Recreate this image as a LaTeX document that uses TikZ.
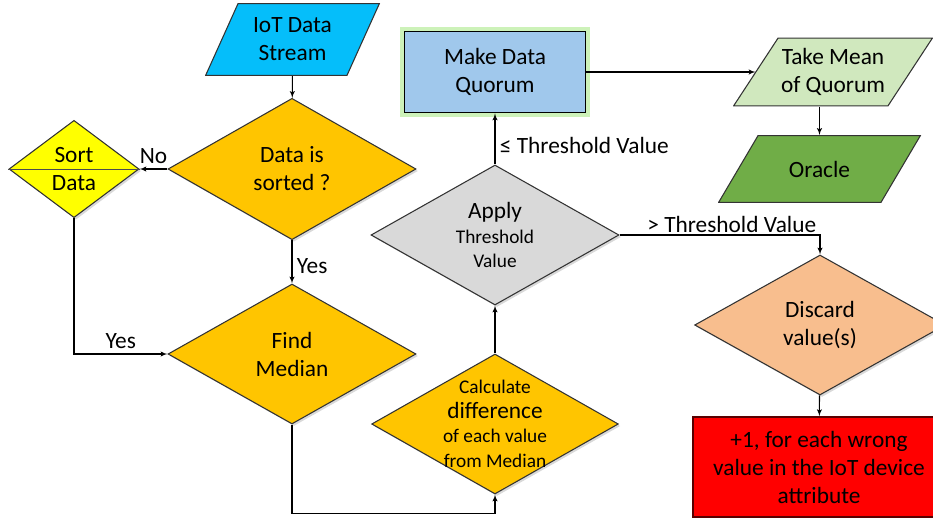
\documentclass[tikz,border=0pt]{standalone}
\usepackage{fontspec}
\setmainfont{Carlito}
\usepackage{tikz}
\definecolor{streamblue}{RGB}{5,190,250}
\definecolor{gold}{RGB}{255,197,0}
\definecolor{sortyellow}{RGB}{255,255,0}
\definecolor{quorumblue}{RGB}{160,200,236}
\definecolor{glowgreen}{RGB}{205,242,185}
\definecolor{meangreen}{RGB}{208,232,190}
\definecolor{oraclegreen}{RGB}{112,173,71}
\definecolor{applygray}{RGB}{217,217,217}
\definecolor{peach}{RGB}{248,190,142}
\definecolor{wrongred}{RGB}{255,0,0}
\usetikzlibrary{arrows, shapes, shadows}
\newcommand{\mainsize}{\fontsize{17.5}{21}\selectfont}
\newcommand{\smallsize}{\fontsize{14.5}{18.5}\selectfont}
\tikzstyle{decision} = [draw=black!80, diamond, inner sep=0pt, align=center, drop shadow={opacity=0.3, shadow xshift=1.5pt, shadow yshift=-1.5pt}]
\tikzstyle{block} = [draw, rectangle, align=center, line width=1.2pt]
\tikzstyle{arrow} = [arrows=->, black]
% parallelogram: #1 = fill, #2 = slant of the legs
\tikzset{io/.style 2 args={rectangle, align=center, inner sep=0pt, outer sep=0pt,
    path picture={\draw [draw=black!80, fill=#1, line width=0.8pt]
      ([shift={(#2,-0.5pt)}]path picture bounding box.north west)
      -- ([shift={(-0.5pt,-0.5pt)}]path picture bounding box.north east)
      -- ([shift={(-#2,0.5pt)}]path picture bounding box.south east)
      -- ([shift={(0.5pt,0.5pt)}]path picture bounding box.south west) -- cycle;}}}

\begin{document}
\begin{tikzpicture}[x=0.75pt, y=-0.75pt, >=latex', font=\mainsize, line width=0.8pt]
    \useasboundingbox (0,0) rectangle (933,521);

    % Place the blocks
    \node [io={streamblue}{24.75pt}, minimum width=131.25pt, minimum height=54.75pt] (stream) at (292.5,39.5) {IoT Data\\Stream};
    \node [decision, fill=gold, aspect=1.75, minimum width=186pt, minimum height=106pt] (sorted) at (292,169) {Data is\\sorted ?};
    \node [decision, fill=sortyellow, aspect=1.34, minimum width=97.5pt, minimum height=73pt] (sort) at (74,169) {Sort\\Data};
    \node [decision, fill=gold, aspect=1.77, minimum width=186pt, minimum height=105pt] (median) at (292,354) {Find\\Median};
    \node [decision, fill=gold, aspect=1.77, minimum width=185pt, minimum height=105pt,
      label={[align=center, font=\smallsize]center:Calculate\\{\mainsize difference}\\of each value\\from Median}] (calc) at (495,424) {};
    \node [decision, fill=applygray, aspect=1.77, minimum width=186pt, minimum height=105pt, font=\smallsize] (apply) at (495,235) {{\mainsize Apply}\\Threshold\\Value};
    \node [block, fill=quorumblue, preaction={draw=glowgreen, line width=6pt}, minimum width=136pt, minimum height=61pt] (quorum) at (495,72) {Make Data\\Quorum};
    \node [io={meangreen}{33.75pt}, minimum width=150pt, minimum height=51.75pt] (mean) at (833,72) {Take Mean\\of Quorum};
    \node [io={oraclegreen}{30pt}, minimum width=152.25pt, minimum height=51pt] (oracle) at (819.5,169) {Oracle};
    \node [decision, fill=peach, aspect=1.77, minimum width=188pt, minimum height=105pt] (discard) at (820,325) {Discard\\value(s)};
    \node [block, fill=wrongred, draw=red!35!black, minimum width=189pt, minimum height=75pt] (wrong) at (819,467) {+1, for each wrong\\value in the IoT device\\attribute};
    \draw [black!70, line width=0.6pt] (sort.west) -- (sort.east);

    % Connect the nodes
    \draw [arrow] (stream) -- (sorted);
    \draw [arrow] (sorted) -- node[above] {No} (sort);
    \draw [arrow] (sort) |- node[pos=0.75, above] {Yes} (median);
    \draw [arrow] (sorted) -- node[right, pos=0.6] {Yes} (median);
    \draw [arrow] (median.south) -- ++(0,89) -| (calc.south);
    \draw [arrow] (calc) -- (apply);
    \draw [arrow] (apply) -- node[right, pos=0.37] {≤ Threshold Value} (quorum);
    \draw [arrow] (quorum) -- ([xshift=16.9pt]mean.west);
    \draw [arrow] (oracle.north |- mean.south) -- (oracle.north);
    \draw [arrow] (apply) -| node[pos=0.28, above, inner sep=1pt] {> Threshold Value} (discard);
    \draw [arrow] (discard) -- (wrong);
  \end{tikzpicture}
\end{document}
